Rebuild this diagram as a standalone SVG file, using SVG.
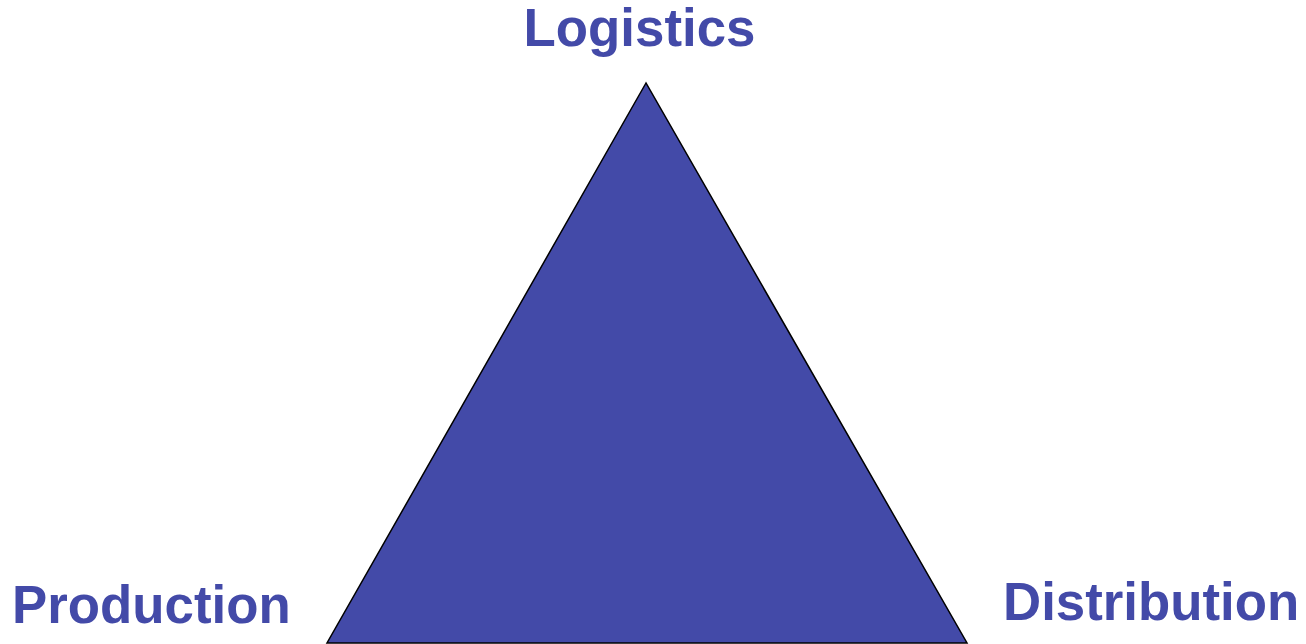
<svg xmlns="http://www.w3.org/2000/svg" width="1306" height="644" viewBox="0 0 1306 644">
<style>
.lbl{font-family:"Liberation Sans",Arial,sans-serif;font-weight:bold;font-size:52.8px;fill:#434AA8}
</style>
<rect width="1306" height="644" fill="#ffffff"/>
<g id="triangle">
<polygon points="646,83 327,643 967,643" fill="#434AA8" stroke="#000000" stroke-width="1.5" stroke-linejoin="miter"/>
</g>
<g id="logistics"><text class="lbl" x="639.5" y="46" text-anchor="middle">Logistics</text></g>
<g id="production"><text class="lbl" x="12" y="623">Production</text></g>
<g id="distribution"><text class="lbl" x="1003" y="620">Distribution</text></g>
<g id="connectors"></g>
</svg>
